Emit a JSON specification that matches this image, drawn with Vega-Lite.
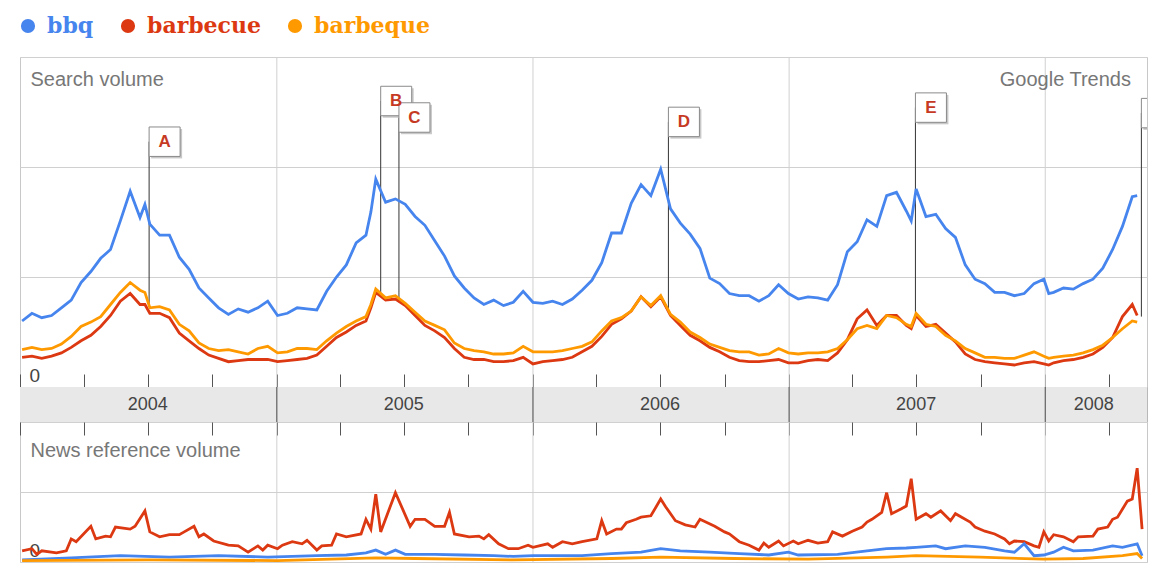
{
  "$schema": "https://vega.github.io/schema/vega-lite/v6.json",
  "padding": {"left": 17, "top": 15, "right": 6, "bottom": 8},
  "background": "white",
  "bounds": "flush",
  "spacing": 0,
  "config": {
    "font": "Liberation Sans",
    "view": {"stroke": "#c8c8c8"},
    "axis": {"tickColor": "#555", "gridColor": "#d0d0d0"}
  },
  "resolve": {"scale": {"color": "shared", "x": "shared"}},
  "datasets": {
    "search": [
      {"d":"2004-01-04","bbq":0.60,"barbecue":0.27,"barbeque":0.34},
      {"d":"2004-01-18","bbq":0.67,"barbecue":0.28,"barbeque":0.36},
      {"d":"2004-02-01","bbq":0.63,"barbecue":0.26,"barbeque":0.34},
      {"d":"2004-02-15","bbq":0.65,"barbecue":0.28,"barbeque":0.35},
      {"d":"2004-02-29","bbq":0.72,"barbecue":0.31,"barbeque":0.39},
      {"d":"2004-03-14","bbq":0.79,"barbecue":0.36,"barbeque":0.46},
      {"d":"2004-03-28","bbq":0.95,"barbecue":0.42,"barbeque":0.55},
      {"d":"2004-04-11","bbq":1.05,"barbecue":0.47,"barbeque":0.59},
      {"d":"2004-04-25","bbq":1.17,"barbecue":0.55,"barbeque":0.64},
      {"d":"2004-05-09","bbq":1.25,"barbecue":0.65,"barbeque":0.75},
      {"d":"2004-05-23","bbq":1.51,"barbecue":0.78,"barbeque":0.86},
      {"d":"2004-06-06","bbq":1.78,"barbecue":0.85,"barbeque":0.95},
      {"d":"2004-06-20","bbq":1.54,"barbecue":0.75,"barbeque":0.88},
      {"d":"2004-06-27","bbq":1.66,"barbecue":0.75,"barbeque":0.86},
      {"d":"2004-07-04","bbq":1.48,"barbecue":0.67,"barbeque":0.72},
      {"d":"2004-07-18","bbq":1.38,"barbecue":0.67,"barbeque":0.73},
      {"d":"2004-08-01","bbq":1.38,"barbecue":0.63,"barbeque":0.70},
      {"d":"2004-08-15","bbq":1.18,"barbecue":0.49,"barbeque":0.57},
      {"d":"2004-08-29","bbq":1.07,"barbecue":0.42,"barbeque":0.51},
      {"d":"2004-09-12","bbq":0.90,"barbecue":0.35,"barbeque":0.40},
      {"d":"2004-09-26","bbq":0.81,"barbecue":0.29,"barbeque":0.35},
      {"d":"2004-10-10","bbq":0.72,"barbecue":0.26,"barbeque":0.33},
      {"d":"2004-10-24","bbq":0.66,"barbecue":0.23,"barbeque":0.34},
      {"d":"2004-11-07","bbq":0.71,"barbecue":0.24,"barbeque":0.32},
      {"d":"2004-11-21","bbq":0.68,"barbecue":0.25,"barbeque":0.30},
      {"d":"2004-12-05","bbq":0.72,"barbecue":0.25,"barbeque":0.35},
      {"d":"2004-12-19","bbq":0.78,"barbecue":0.25,"barbeque":0.37},
      {"d":"2005-01-02","bbq":0.65,"barbecue":0.23,"barbeque":0.31},
      {"d":"2005-01-16","bbq":0.67,"barbecue":0.24,"barbeque":0.32},
      {"d":"2005-01-30","bbq":0.72,"barbecue":0.25,"barbeque":0.35},
      {"d":"2005-02-13","bbq":0.71,"barbecue":0.26,"barbeque":0.35},
      {"d":"2005-02-27","bbq":0.70,"barbecue":0.29,"barbeque":0.34},
      {"d":"2005-03-13","bbq":0.87,"barbecue":0.37,"barbeque":0.42},
      {"d":"2005-03-27","bbq":1.00,"barbecue":0.45,"barbeque":0.49},
      {"d":"2005-04-10","bbq":1.11,"barbecue":0.50,"barbeque":0.55},
      {"d":"2005-04-24","bbq":1.31,"barbecue":0.56,"barbeque":0.60},
      {"d":"2005-05-08","bbq":1.38,"barbecue":0.60,"barbeque":0.64},
      {"d":"2005-05-15","bbq":1.59,"barbecue":0.72,"barbeque":0.75},
      {"d":"2005-05-22","bbq":1.89,"barbecue":0.86,"barbeque":0.89},
      {"d":"2005-06-05","bbq":1.68,"barbecue":0.79,"barbeque":0.81},
      {"d":"2005-06-19","bbq":1.71,"barbecue":0.80,"barbeque":0.83},
      {"d":"2005-07-03","bbq":1.66,"barbecue":0.74,"barbeque":0.76},
      {"d":"2005-07-17","bbq":1.55,"barbecue":0.65,"barbeque":0.68},
      {"d":"2005-07-31","bbq":1.47,"barbecue":0.56,"barbeque":0.60},
      {"d":"2005-08-14","bbq":1.33,"barbecue":0.51,"barbeque":0.56},
      {"d":"2005-08-28","bbq":1.19,"barbecue":0.45,"barbeque":0.52},
      {"d":"2005-09-11","bbq":1.01,"barbecue":0.35,"barbeque":0.40},
      {"d":"2005-09-25","bbq":0.90,"barbecue":0.27,"barbeque":0.35},
      {"d":"2005-10-09","bbq":0.81,"barbecue":0.25,"barbeque":0.33},
      {"d":"2005-10-23","bbq":0.75,"barbecue":0.25,"barbeque":0.32},
      {"d":"2005-11-06","bbq":0.79,"barbecue":0.23,"barbeque":0.30},
      {"d":"2005-11-20","bbq":0.74,"barbecue":0.23,"barbeque":0.30},
      {"d":"2005-12-04","bbq":0.77,"barbecue":0.24,"barbeque":0.31},
      {"d":"2005-12-18","bbq":0.87,"barbecue":0.27,"barbeque":0.37},
      {"d":"2006-01-01","bbq":0.77,"barbecue":0.21,"barbeque":0.32},
      {"d":"2006-01-15","bbq":0.76,"barbecue":0.23,"barbeque":0.32},
      {"d":"2006-01-29","bbq":0.78,"barbecue":0.24,"barbeque":0.32},
      {"d":"2006-02-12","bbq":0.75,"barbecue":0.25,"barbeque":0.33},
      {"d":"2006-02-26","bbq":0.80,"barbecue":0.27,"barbeque":0.35},
      {"d":"2006-03-12","bbq":0.88,"barbecue":0.32,"barbeque":0.37},
      {"d":"2006-03-26","bbq":0.97,"barbecue":0.37,"barbeque":0.41},
      {"d":"2006-04-09","bbq":1.13,"barbecue":0.46,"barbeque":0.51},
      {"d":"2006-04-23","bbq":1.40,"barbecue":0.57,"barbeque":0.60},
      {"d":"2006-05-07","bbq":1.40,"barbecue":0.62,"barbeque":0.63},
      {"d":"2006-05-21","bbq":1.67,"barbecue":0.69,"barbeque":0.69},
      {"d":"2006-06-04","bbq":1.84,"barbecue":0.82,"barbeque":0.82},
      {"d":"2006-06-18","bbq":1.74,"barbecue":0.73,"barbeque":0.74},
      {"d":"2006-07-02","bbq":1.98,"barbecue":0.82,"barbeque":0.83},
      {"d":"2006-07-16","bbq":1.62,"barbecue":0.65,"barbeque":0.66},
      {"d":"2006-07-30","bbq":1.49,"barbecue":0.56,"barbeque":0.59},
      {"d":"2006-08-13","bbq":1.39,"barbecue":0.47,"barbeque":0.50},
      {"d":"2006-08-27","bbq":1.26,"barbecue":0.42,"barbeque":0.45},
      {"d":"2006-09-10","bbq":0.99,"barbecue":0.36,"barbeque":0.39},
      {"d":"2006-09-24","bbq":0.94,"barbecue":0.32,"barbeque":0.36},
      {"d":"2006-10-08","bbq":0.85,"barbecue":0.27,"barbeque":0.33},
      {"d":"2006-10-22","bbq":0.83,"barbecue":0.24,"barbeque":0.32},
      {"d":"2006-11-05","bbq":0.83,"barbecue":0.23,"barbeque":0.32},
      {"d":"2006-11-19","bbq":0.78,"barbecue":0.23,"barbeque":0.29},
      {"d":"2006-12-03","bbq":0.83,"barbecue":0.24,"barbeque":0.30},
      {"d":"2006-12-17","bbq":0.93,"barbecue":0.25,"barbeque":0.35},
      {"d":"2006-12-31","bbq":0.85,"barbecue":0.22,"barbeque":0.31},
      {"d":"2007-01-14","bbq":0.80,"barbecue":0.22,"barbeque":0.30},
      {"d":"2007-01-28","bbq":0.82,"barbecue":0.24,"barbeque":0.31},
      {"d":"2007-02-11","bbq":0.81,"barbecue":0.25,"barbeque":0.31},
      {"d":"2007-02-25","bbq":0.79,"barbecue":0.24,"barbeque":0.32},
      {"d":"2007-03-11","bbq":0.93,"barbecue":0.31,"barbeque":0.35},
      {"d":"2007-03-25","bbq":1.23,"barbecue":0.43,"barbeque":0.43},
      {"d":"2007-04-08","bbq":1.32,"barbecue":0.62,"barbeque":0.53},
      {"d":"2007-04-22","bbq":1.52,"barbecue":0.70,"barbeque":0.56},
      {"d":"2007-05-06","bbq":1.46,"barbecue":0.56,"barbeque":0.53},
      {"d":"2007-05-20","bbq":1.74,"barbecue":0.65,"barbeque":0.65},
      {"d":"2007-06-03","bbq":1.77,"barbecue":0.65,"barbeque":0.63},
      {"d":"2007-06-17","bbq":1.60,"barbecue":0.56,"barbeque":0.57},
      {"d":"2007-06-24","bbq":1.51,"barbecue":0.53,"barbeque":0.55},
      {"d":"2007-07-01","bbq":1.80,"barbecue":0.65,"barbeque":0.67},
      {"d":"2007-07-15","bbq":1.55,"barbecue":0.55,"barbeque":0.57},
      {"d":"2007-07-29","bbq":1.57,"barbecue":0.57,"barbeque":0.55},
      {"d":"2007-08-12","bbq":1.44,"barbecue":0.49,"barbeque":0.47},
      {"d":"2007-08-26","bbq":1.36,"barbecue":0.41,"barbeque":0.42},
      {"d":"2007-09-09","bbq":1.11,"barbecue":0.30,"barbeque":0.35},
      {"d":"2007-09-23","bbq":0.98,"barbecue":0.25,"barbeque":0.31},
      {"d":"2007-10-07","bbq":0.94,"barbecue":0.23,"barbeque":0.27},
      {"d":"2007-10-21","bbq":0.86,"barbecue":0.22,"barbeque":0.27},
      {"d":"2007-11-04","bbq":0.86,"barbecue":0.21,"barbeque":0.26},
      {"d":"2007-11-18","bbq":0.83,"barbecue":0.20,"barbeque":0.26},
      {"d":"2007-12-02","bbq":0.85,"barbecue":0.22,"barbeque":0.29},
      {"d":"2007-12-16","bbq":0.94,"barbecue":0.23,"barbeque":0.32},
      {"d":"2007-12-30","bbq":0.98,"barbecue":0.21,"barbeque":0.28},
      {"d":"2008-01-06","bbq":0.85,"barbecue":0.20,"barbeque":0.26},
      {"d":"2008-01-13","bbq":0.86,"barbecue":0.22,"barbeque":0.27},
      {"d":"2008-01-27","bbq":0.90,"barbecue":0.24,"barbeque":0.28},
      {"d":"2008-02-10","bbq":0.89,"barbecue":0.25,"barbeque":0.29},
      {"d":"2008-02-24","bbq":0.94,"barbecue":0.27,"barbeque":0.31},
      {"d":"2008-03-09","bbq":0.98,"barbecue":0.30,"barbeque":0.34},
      {"d":"2008-03-23","bbq":1.08,"barbecue":0.36,"barbeque":0.38},
      {"d":"2008-04-06","bbq":1.25,"barbecue":0.45,"barbeque":0.45},
      {"d":"2008-04-20","bbq":1.46,"barbecue":0.64,"barbeque":0.53},
      {"d":"2008-05-04","bbq":1.73,"barbecue":0.75,"barbeque":0.60},
      {"d":"2008-05-11","bbq":1.74,"barbecue":0.65,"barbeque":0.59}
    ],
    "news": [
      {"d":"2004-01-04","term":"barbecue","v":0.16},{"d":"2004-01-18","term":"barbecue","v":0.19},{"d":"2004-01-25","term":"barbecue","v":0.11},{"d":"2004-02-01","term":"barbecue","v":0.16},{"d":"2004-02-22","term":"barbecue","v":0.13},{"d":"2004-03-07","term":"barbecue","v":0.16},{"d":"2004-03-14","term":"barbecue","v":0.33},{"d":"2004-03-21","term":"barbecue","v":0.29},{"d":"2004-04-11","term":"barbecue","v":0.51},{"d":"2004-04-18","term":"barbecue","v":0.33},{"d":"2004-05-02","term":"barbecue","v":0.37},{"d":"2004-05-09","term":"barbecue","v":0.36},{"d":"2004-05-16","term":"barbecue","v":0.50},{"d":"2004-06-06","term":"barbecue","v":0.47},{"d":"2004-06-13","term":"barbecue","v":0.51},{"d":"2004-06-27","term":"barbecue","v":0.73},{"d":"2004-07-04","term":"barbecue","v":0.43},{"d":"2004-07-18","term":"barbecue","v":0.36},{"d":"2004-08-01","term":"barbecue","v":0.39},{"d":"2004-08-15","term":"barbecue","v":0.39},{"d":"2004-08-22","term":"barbecue","v":0.43},{"d":"2004-09-05","term":"barbecue","v":0.51},{"d":"2004-09-12","term":"barbecue","v":0.36},{"d":"2004-09-19","term":"barbecue","v":0.40},{"d":"2004-10-03","term":"barbecue","v":0.30},{"d":"2004-10-24","term":"barbecue","v":0.24},{"d":"2004-11-07","term":"barbecue","v":0.23},{"d":"2004-11-21","term":"barbecue","v":0.14},{"d":"2004-12-05","term":"barbecue","v":0.23},{"d":"2004-12-12","term":"barbecue","v":0.17},{"d":"2004-12-19","term":"barbecue","v":0.24},
      {"d":"2005-01-02","term":"barbecue","v":0.19},{"d":"2005-01-09","term":"barbecue","v":0.24},{"d":"2005-01-23","term":"barbecue","v":0.29},{"d":"2005-02-06","term":"barbecue","v":0.26},{"d":"2005-02-13","term":"barbecue","v":0.31},{"d":"2005-02-27","term":"barbecue","v":0.17},{"d":"2005-03-06","term":"barbecue","v":0.23},{"d":"2005-03-20","term":"barbecue","v":0.24},{"d":"2005-03-27","term":"barbecue","v":0.40},{"d":"2005-04-10","term":"barbecue","v":0.36},{"d":"2005-05-01","term":"barbecue","v":0.40},{"d":"2005-05-08","term":"barbecue","v":0.61},{"d":"2005-05-15","term":"barbecue","v":0.47},{"d":"2005-05-22","term":"barbecue","v":0.97},{"d":"2005-05-29","term":"barbecue","v":0.43},{"d":"2005-06-19","term":"barbecue","v":0.99},{"d":"2005-07-10","term":"barbecue","v":0.51},{"d":"2005-07-17","term":"barbecue","v":0.61},{"d":"2005-07-31","term":"barbecue","v":0.61},{"d":"2005-08-14","term":"barbecue","v":0.51},{"d":"2005-08-28","term":"barbecue","v":0.51},{"d":"2005-09-04","term":"barbecue","v":0.71},{"d":"2005-09-11","term":"barbecue","v":0.40},{"d":"2005-10-02","term":"barbecue","v":0.36},{"d":"2005-10-16","term":"barbecue","v":0.37},{"d":"2005-10-23","term":"barbecue","v":0.33},{"d":"2005-10-30","term":"barbecue","v":0.39},{"d":"2005-11-13","term":"barbecue","v":0.26},{"d":"2005-11-27","term":"barbecue","v":0.19},{"d":"2005-12-11","term":"barbecue","v":0.19},{"d":"2005-12-25","term":"barbecue","v":0.24},
      {"d":"2006-01-01","term":"barbecue","v":0.21},{"d":"2006-01-22","term":"barbecue","v":0.26},{"d":"2006-01-29","term":"barbecue","v":0.21},{"d":"2006-02-12","term":"barbecue","v":0.29},{"d":"2006-02-26","term":"barbecue","v":0.26},{"d":"2006-03-12","term":"barbecue","v":0.29},{"d":"2006-04-02","term":"barbecue","v":0.33},{"d":"2006-04-09","term":"barbecue","v":0.59},{"d":"2006-04-16","term":"barbecue","v":0.40},{"d":"2006-04-30","term":"barbecue","v":0.47},{"d":"2006-05-07","term":"barbecue","v":0.47},{"d":"2006-05-14","term":"barbecue","v":0.56},{"d":"2006-05-28","term":"barbecue","v":0.61},{"d":"2006-06-04","term":"barbecue","v":0.64},{"d":"2006-06-18","term":"barbecue","v":0.66},{"d":"2006-07-02","term":"barbecue","v":0.90},{"d":"2006-07-09","term":"barbecue","v":0.79},{"d":"2006-07-23","term":"barbecue","v":0.59},{"d":"2006-08-06","term":"barbecue","v":0.53},{"d":"2006-08-20","term":"barbecue","v":0.50},{"d":"2006-08-27","term":"barbecue","v":0.61},{"d":"2006-09-17","term":"barbecue","v":0.51},{"d":"2006-10-01","term":"barbecue","v":0.43},{"d":"2006-10-08","term":"barbecue","v":0.40},{"d":"2006-10-22","term":"barbecue","v":0.29},{"d":"2006-11-05","term":"barbecue","v":0.24},{"d":"2006-11-19","term":"barbecue","v":0.17},{"d":"2006-11-26","term":"barbecue","v":0.27},{"d":"2006-12-03","term":"barbecue","v":0.21},{"d":"2006-12-17","term":"barbecue","v":0.30},{"d":"2006-12-24","term":"barbecue","v":0.23},
      {"d":"2007-01-07","term":"barbecue","v":0.30},{"d":"2007-01-14","term":"barbecue","v":0.26},{"d":"2007-01-28","term":"barbecue","v":0.31},{"d":"2007-02-11","term":"barbecue","v":0.27},{"d":"2007-02-25","term":"barbecue","v":0.29},{"d":"2007-03-04","term":"barbecue","v":0.43},{"d":"2007-03-18","term":"barbecue","v":0.37},{"d":"2007-04-01","term":"barbecue","v":0.44},{"d":"2007-04-15","term":"barbecue","v":0.50},{"d":"2007-04-22","term":"barbecue","v":0.57},{"d":"2007-04-29","term":"barbecue","v":0.61},{"d":"2007-05-13","term":"barbecue","v":0.71},{"d":"2007-05-20","term":"barbecue","v":0.99},{"d":"2007-05-27","term":"barbecue","v":0.69},{"d":"2007-06-10","term":"barbecue","v":0.76},{"d":"2007-06-17","term":"barbecue","v":0.80},{"d":"2007-06-24","term":"barbecue","v":1.19},{"d":"2007-07-01","term":"barbecue","v":0.61},{"d":"2007-07-15","term":"barbecue","v":0.69},{"d":"2007-07-22","term":"barbecue","v":0.64},{"d":"2007-08-05","term":"barbecue","v":0.73},{"d":"2007-08-19","term":"barbecue","v":0.59},{"d":"2007-08-26","term":"barbecue","v":0.69},{"d":"2007-09-16","term":"barbecue","v":0.57},{"d":"2007-09-23","term":"barbecue","v":0.50},{"d":"2007-10-07","term":"barbecue","v":0.44},{"d":"2007-10-21","term":"barbecue","v":0.40},{"d":"2007-11-04","term":"barbecue","v":0.33},{"d":"2007-11-11","term":"barbecue","v":0.26},{"d":"2007-11-18","term":"barbecue","v":0.30},{"d":"2007-12-02","term":"barbecue","v":0.29},{"d":"2007-12-16","term":"barbecue","v":0.23},{"d":"2007-12-23","term":"barbecue","v":0.21},{"d":"2007-12-30","term":"barbecue","v":0.43},
      {"d":"2008-01-06","term":"barbecue","v":0.30},{"d":"2008-01-13","term":"barbecue","v":0.39},{"d":"2008-01-27","term":"barbecue","v":0.36},{"d":"2008-02-10","term":"barbecue","v":0.29},{"d":"2008-02-17","term":"barbecue","v":0.36},{"d":"2008-03-09","term":"barbecue","v":0.37},{"d":"2008-03-16","term":"barbecue","v":0.47},{"d":"2008-03-30","term":"barbecue","v":0.50},{"d":"2008-04-06","term":"barbecue","v":0.61},{"d":"2008-04-13","term":"barbecue","v":0.64},{"d":"2008-04-27","term":"barbecue","v":0.87},{"d":"2008-05-04","term":"barbecue","v":0.90},{"d":"2008-05-11","term":"barbecue","v":1.34},{"d":"2008-05-18","term":"barbecue","v":0.47},
      {"d":"2004-01-04","term":"bbq","v":0.03},{"d":"2004-03-14","term":"bbq","v":0.06},{"d":"2004-05-23","term":"bbq","v":0.09},{"d":"2004-08-01","term":"bbq","v":0.07},{"d":"2004-10-10","term":"bbq","v":0.09},{"d":"2004-12-19","term":"bbq","v":0.07},{"d":"2005-02-27","term":"bbq","v":0.09},{"d":"2005-04-10","term":"bbq","v":0.10},{"d":"2005-05-08","term":"bbq","v":0.13},{"d":"2005-05-22","term":"bbq","v":0.17},{"d":"2005-06-05","term":"bbq","v":0.11},{"d":"2005-06-19","term":"bbq","v":0.17},{"d":"2005-07-03","term":"bbq","v":0.11},{"d":"2005-08-14","term":"bbq","v":0.11},{"d":"2005-09-25","term":"bbq","v":0.10},{"d":"2005-11-06","term":"bbq","v":0.09},{"d":"2005-12-04","term":"bbq","v":0.08},{"d":"2006-01-01","term":"bbq","v":0.09},{"d":"2006-03-12","term":"bbq","v":0.09},{"d":"2006-04-23","term":"bbq","v":0.12},{"d":"2006-06-04","term":"bbq","v":0.14},{"d":"2006-07-02","term":"bbq","v":0.19},{"d":"2006-07-30","term":"bbq","v":0.16},{"d":"2006-09-10","term":"bbq","v":0.14},{"d":"2006-10-22","term":"bbq","v":0.12},{"d":"2006-12-03","term":"bbq","v":0.10},{"d":"2006-12-31","term":"bbq","v":0.14},{"d":"2007-01-14","term":"bbq","v":0.10},{"d":"2007-03-11","term":"bbq","v":0.11},{"d":"2007-04-22","term":"bbq","v":0.16},{"d":"2007-05-20","term":"bbq","v":0.19},{"d":"2007-06-17","term":"bbq","v":0.20},{"d":"2007-07-01","term":"bbq","v":0.21},{"d":"2007-07-29","term":"bbq","v":0.23},{"d":"2007-08-12","term":"bbq","v":0.19},{"d":"2007-09-09","term":"bbq","v":0.23},{"d":"2007-10-07","term":"bbq","v":0.21},{"d":"2007-11-04","term":"bbq","v":0.16},{"d":"2007-11-18","term":"bbq","v":0.14},{"d":"2007-12-02","term":"bbq","v":0.26},{"d":"2007-12-16","term":"bbq","v":0.09},{"d":"2007-12-30","term":"bbq","v":0.10},{"d":"2008-01-13","term":"bbq","v":0.14},{"d":"2008-01-27","term":"bbq","v":0.21},{"d":"2008-02-10","term":"bbq","v":0.16},{"d":"2008-03-09","term":"bbq","v":0.17},{"d":"2008-04-06","term":"bbq","v":0.23},{"d":"2008-04-20","term":"bbq","v":0.21},{"d":"2008-05-11","term":"bbq","v":0.26},{"d":"2008-05-18","term":"bbq","v":0.09},
      {"d":"2004-01-04","term":"barbeque","v":0.02},{"d":"2004-07-04","term":"barbeque","v":0.03},{"d":"2005-01-02","term":"barbeque","v":0.02},{"d":"2005-05-22","term":"barbeque","v":0.06},{"d":"2005-07-17","term":"barbeque","v":0.05},{"d":"2005-12-04","term":"barbeque","v":0.03},{"d":"2006-04-23","term":"barbeque","v":0.05},{"d":"2006-07-02","term":"barbeque","v":0.07},{"d":"2006-10-15","term":"barbeque","v":0.05},{"d":"2007-01-28","term":"barbeque","v":0.04},{"d":"2007-05-20","term":"barbeque","v":0.07},{"d":"2007-07-01","term":"barbeque","v":0.09},{"d":"2007-09-30","term":"barbeque","v":0.07},{"d":"2007-12-30","term":"barbeque","v":0.04},{"d":"2008-02-24","term":"barbeque","v":0.05},{"d":"2008-04-20","term":"barbeque","v":0.09},{"d":"2008-05-11","term":"barbeque","v":0.12},{"d":"2008-05-18","term":"barbeque","v":0.05}
    ],
    "flags": [
      {"d":"2004-07-03","label":"A","top":2.23,"bottom":0.74},
      {"d":"2005-05-29","label":"B","top":2.60,"bottom":0.86},
      {"d":"2005-06-24","label":"C","top":2.45,"bottom":0.77},
      {"d":"2006-07-13","label":"D","top":2.41,"bottom":0.68},
      {"d":"2007-06-30","label":"E","top":2.54,"bottom":0.65},
      {"d":"2008-05-17","label":"","top":2.49,"bottom":0.64}
    ],
    "bounds": [{"d":"2005-01-01"},{"d":"2006-01-01"},{"d":"2007-01-01"},{"d":"2008-01-01"}],
    "years": [
      {"year":"2004","start":"2004-01-01","end":"2005-01-01","mid":"2004-07-01"},
      {"year":"2005","start":"2005-01-01","end":"2006-01-01","mid":"2005-07-01"},
      {"year":"2006","start":"2006-01-01","end":"2007-01-01","mid":"2006-07-01"},
      {"year":"2007","start":"2007-01-01","end":"2008-01-01","mid":"2007-07-01"},
      {"year":"2008","start":"2008-01-01","end":"2008-05-25","mid":"2008-03-10"}
    ]
  },
  "vconcat": [
    {
      "width": 1127,
      "height": 330,
      "title": {"text": "Google Trends", "anchor": "end", "frame": "group", "orient": "top", "offset": -54, "dx": -16, "fontSize": 20, "fontWeight": "normal", "color": "#777", "font": "Liberation Sans"},
      "encoding": {
        "x": {"field": "d", "type": "temporal", "scale": {"type": "utc", "domain": [{"year": 2004, "month": 1, "date": 1, "utc": true}, {"year": 2008, "month": 5, "date": 25, "utc": true}]},
          "axis": {"orient": "bottom", "labels": false, "domain": false, "grid": false, "ticks": true, "tickSize": -13, "tickWidth": 1, "tickColor": "#555", "tickCount": {"interval": "month", "step": 3}, "title": null}}
      },
      "layer": [
        {
          "data": {"name": "bounds"},
          "mark": {"type": "rule", "color": "#d0d0d0", "strokeWidth": 1}
        },
        {
          "data": {"name": "flags"},
          "mark": {"type": "rule", "color": "#333", "strokeWidth": 1, "clip": true},
          "encoding": {
            "y": {"field": "top", "type": "quantitative", "scale": {"domain": [0, 3]},
              "axis": {"values": [0, 1, 2, 3], "grid": true, "gridColor": "#d0d0d0", "domain": false, "ticks": false, "tickSize": 0, "labelExpr": "datum.value == 0 ? '0' : ''", "labelOverlap": false, "labelAlign": "left", "labelPadding": -9, "labelBaseline": "alphabetic", "labelOffset": -6, "labelFontSize": 19, "labelColor": "#444", "labelFlush": false, "labelFont": "Liberation Sans", "title": "Search volume", "titleAngle": 0, "titleAlign": "left", "titleBaseline": "middle", "titleX": 10, "titleY": 22, "titleFontSize": 20, "titleFontWeight": "normal", "titleColor": "#777", "titleFont": "Liberation Sans"}},
            "y2": {"field": "bottom"}
          }
        },
        {
          "data": {"name": "flags"},
          "mark": {"type": "point", "shape": "M0,-0.95L2,-0.95L2,0.95L0,0.95Z", "size": 961, "filled": true, "color": "#c8c8c8", "opacity": 1, "xOffset": 2, "yOffset": 2, "clip": true},
          "encoding": {
            "y": {"field": "top", "type": "quantitative", "scale": {"domain": [0, 3]},
              "axis": {"values": [0, 1, 2, 3], "grid": true, "gridColor": "#d0d0d0", "domain": false, "ticks": false, "tickSize": 0, "labelExpr": "datum.value == 0 ? '0' : ''", "labelOverlap": false, "labelAlign": "left", "labelPadding": -9, "labelBaseline": "alphabetic", "labelOffset": -6, "labelFontSize": 19, "labelColor": "#444", "labelFlush": false, "labelFont": "Liberation Sans", "title": "Search volume", "titleAngle": 0, "titleAlign": "left", "titleBaseline": "middle", "titleX": 10, "titleY": 22, "titleFontSize": 20, "titleFontWeight": "normal", "titleColor": "#777", "titleFont": "Liberation Sans"}}
          }
        },
        {
          "data": {"name": "flags"},
          "mark": {"type": "point", "shape": "M0,-0.95L2,-0.95L2,0.95L0,0.95Z", "size": 961, "fill": "#ffffff", "stroke": "#8a8a8a", "strokeWidth": 1, "opacity": 1, "fillOpacity": 1, "clip": true},
          "encoding": {
            "y": {"field": "top", "type": "quantitative", "scale": {"domain": [0, 3]},
              "axis": {"values": [0, 1, 2, 3], "grid": true, "gridColor": "#d0d0d0", "domain": false, "ticks": false, "tickSize": 0, "labelExpr": "datum.value == 0 ? '0' : ''", "labelOverlap": false, "labelAlign": "left", "labelPadding": -9, "labelBaseline": "alphabetic", "labelOffset": -6, "labelFontSize": 19, "labelColor": "#444", "labelFlush": false, "labelFont": "Liberation Sans", "title": "Search volume", "titleAngle": 0, "titleAlign": "left", "titleBaseline": "middle", "titleX": 10, "titleY": 22, "titleFontSize": 20, "titleFontWeight": "normal", "titleColor": "#777", "titleFont": "Liberation Sans"}}
          }
        },
        {
          "data": {"name": "flags"},
          "mark": {"type": "text", "dx": 15.5, "fontSize": 17, "fontWeight": "bold", "color": "#c63a24", "font": "Liberation Sans", "align": "center", "baseline": "middle", "clip": true},
          "encoding": {
            "y": {"field": "top", "type": "quantitative", "scale": {"domain": [0, 3]},
              "axis": {"values": [0, 1, 2, 3], "grid": true, "gridColor": "#d0d0d0", "domain": false, "ticks": false, "tickSize": 0, "labelExpr": "datum.value == 0 ? '0' : ''", "labelOverlap": false, "labelAlign": "left", "labelPadding": -9, "labelBaseline": "alphabetic", "labelOffset": -6, "labelFontSize": 19, "labelColor": "#444", "labelFlush": false, "labelFont": "Liberation Sans", "title": "Search volume", "titleAngle": 0, "titleAlign": "left", "titleBaseline": "middle", "titleX": 10, "titleY": 22, "titleFontSize": 20, "titleFontWeight": "normal", "titleColor": "#777", "titleFont": "Liberation Sans"}},
            "text": {"field": "label"}
          }
        },
        {
          "data": {"name": "search"},
          "transform": [{"fold": ["bbq", "barbecue", "barbeque"], "as": ["term", "v"]}],
          "mark": {"type": "line", "strokeWidth": 2.8, "clip": true},
          "encoding": {
            "y": {"field": "v", "type": "quantitative", "scale": {"domain": [0, 3]},
              "axis": {"values": [0, 1, 2, 3], "grid": true, "gridColor": "#d0d0d0", "domain": false, "ticks": false, "tickSize": 0, "labelExpr": "datum.value == 0 ? '0' : ''", "labelOverlap": false, "labelAlign": "left", "labelPadding": -9, "labelBaseline": "alphabetic", "labelOffset": -6, "labelFontSize": 19, "labelColor": "#444", "labelFlush": false, "labelFont": "Liberation Sans", "title": "Search volume", "titleAngle": 0, "titleAlign": "left", "titleBaseline": "middle", "titleX": 10, "titleY": 22, "titleFontSize": 20, "titleFontWeight": "normal", "titleColor": "#777", "titleFont": "Liberation Sans"}},
            "color": {"field": "term", "type": "nominal", "scale": {"domain": ["bbq", "barbecue", "barbeque"], "range": ["#4684ee", "#dc3912", "#ff9900"]},
              "legend": {"orient": "none", "legendX": -3, "legendY": -42, "direction": "horizontal", "title": null, "symbolType": "circle", "symbolSize": 200, "symbolStrokeWidth": 0, "labelFont": "DejaVu Serif", "labelFontWeight": "bold", "labelFontSize": 22, "labelOffset": 8, "columnPadding": 23, "labelLimit": 0,
                "encode": {"symbols": {"update": {"fill": {"scale": "color", "field": "value"}, "stroke": {"value": "transparent"}}}, "labels": {"update": {"fill": {"scale": "color", "field": "value"}}}}}}
          }
        }
      ]
    },
    {
      "width": 1127,
      "height": 35,
      "view": {"stroke": "#b8b8b8"},
      "layer": [
        {
          "data": {"name": "years"},
          "mark": {"type": "rect", "color": "#e8e8e8"},
          "encoding": {
            "x": {"field": "start", "type": "temporal", "scale": {"type": "utc", "domain": [{"year": 2004, "month": 1, "date": 1, "utc": true}, {"year": 2008, "month": 5, "date": 25, "utc": true}]}, "axis": null},
            "x2": {"field": "end"}
          }
        },
        {
          "data": {"name": "bounds"},
          "mark": {"type": "rule", "color": "#444", "strokeWidth": 1},
          "encoding": {
            "x": {"field": "d", "type": "temporal", "scale": {"type": "utc", "domain": [{"year": 2004, "month": 1, "date": 1, "utc": true}, {"year": 2008, "month": 5, "date": 25, "utc": true}]}, "axis": null}
          }
        },
        {
          "data": {"name": "years"},
          "mark": {"type": "text", "fontSize": 18, "color": "#444", "font": "Liberation Sans", "baseline": "middle"},
          "encoding": {
            "x": {"field": "mid", "type": "temporal", "scale": {"type": "utc", "domain": [{"year": 2004, "month": 1, "date": 1, "utc": true}, {"year": 2008, "month": 5, "date": 25, "utc": true}]}, "axis": null},
            "text": {"field": "year"}
          }
        }
      ]
    },
    {
      "width": 1127,
      "height": 140,
      "encoding": {
        "x": {"field": "d", "type": "temporal", "scale": {"type": "utc", "domain": [{"year": 2004, "month": 1, "date": 1, "utc": true}, {"year": 2008, "month": 5, "date": 25, "utc": true}]},
          "axis": {"orient": "top", "labels": false, "domain": false, "grid": false, "ticks": true, "tickSize": -13, "tickWidth": 1, "tickColor": "#555", "tickCount": {"interval": "month", "step": 3}, "title": null}}
      },
      "layer": [
        {
          "data": {"name": "bounds"},
          "mark": {"type": "rule", "color": "#d0d0d0", "strokeWidth": 1}
        },
        {
          "data": {"name": "news"},
          "mark": {"type": "line", "strokeWidth": 2.8, "clip": true},
          "encoding": {
            "y": {"field": "v", "type": "quantitative", "scale": {"domain": [0, 2]},
              "axis": {"values": [0, 1, 2], "grid": true, "gridColor": "#d0d0d0", "domain": false, "ticks": false, "tickSize": 0, "labelExpr": "datum.value == 0 ? '0' : ''", "labelOverlap": false, "labelAlign": "left", "labelPadding": -9, "labelBaseline": "alphabetic", "labelOffset": -6, "labelFontSize": 19, "labelColor": "#444", "labelFlush": false, "labelFont": "Liberation Sans", "title": "News reference volume", "titleAngle": 0, "titleAlign": "left", "titleBaseline": "middle", "titleX": 10, "titleY": 28, "titleFontSize": 20, "titleFontWeight": "normal", "titleColor": "#777", "titleFont": "Liberation Sans"}},
            "color": {"field": "term", "type": "nominal", "scale": {"domain": ["bbq", "barbecue", "barbeque"], "range": ["#4684ee", "#dc3912", "#ff9900"]}, "legend": null}
          }
        }
      ]
    }
  ]
}
